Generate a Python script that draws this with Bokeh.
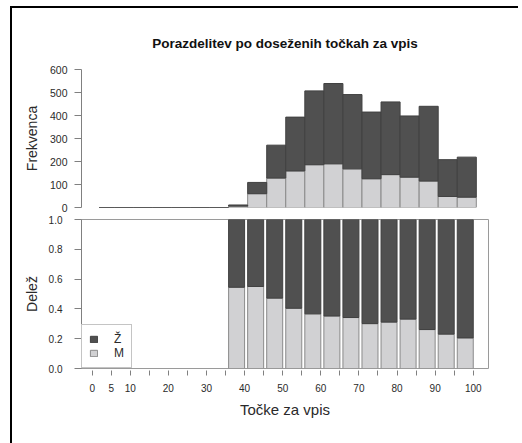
from bokeh.plotting import figure
from bokeh.layouts import column
from bokeh.models import Range1d, FixedTicker, Legend, LegendItem, Title, ColumnDataSource
from bokeh.embed import file_html
from bokeh.resources import INLINE

# ---- data ----
bin_edges = [1, 5, 10, 15, 20, 25, 30, 35, 40, 45, 50, 55, 60, 65, 70, 75, 80, 85, 90, 95, 100]
count_m = [0, 0, 0, 0, 0, 0, 0, 6, 60, 128, 159, 186, 190, 168, 125, 143, 132, 115, 48, 45]
count_z = [0, 0, 0, 0, 0, 0, 0, 5, 49, 143, 234, 321, 349, 323, 290, 316, 266, 325, 160, 174]
x_ticks = list(range(0, 101, 5))
x_labeled = [0, 5, 10, 20, 30, 40, 50, 60, 70, 80, 90, 100]
y_ticks_top = [0, 100, 200, 300, 400, 500, 600]
y_ticks_bottom = [0.0, 0.2, 0.4, 0.6, 0.8, 1.0]
title_text = "Porazdelitev po doseženih točkah za vpis"
label_m = "M"
label_z = "Ž"

# ---- styles ----
DARK = "#505050"
LIGHT = "#d1d1d3"
DARK_LINE = "#404040"
LIGHT_LINE = "#8a8a8a"
AX = "#808080"
TXT = "#2a2a2a"
FONT = "Liberation Sans"
GAP = 0.8

lefts = bin_edges[:-1]
rights = bin_edges[1:]
tot = [m + z for m, z in zip(count_m, count_z)]

src_top = ColumnDataSource(dict(
    left=lefts, right=rights,
    m_top=count_m,
    z_top=tot,
    zero=[0] * len(lefts),
))

idx = [i for i, t in enumerate(tot) if t > 0]
prop_m = [count_m[i] / tot[i] for i in idx]
src_bot = ColumnDataSource(dict(
    left=[lefts[i] + GAP for i in idx],
    right=[rights[i] for i in idx],
    pm=prop_m,
    zero=[0.0] * len(idx),
    one=[1.0] * len(idx),
))

W = 506
LB = 69
RB = 30

# ---- top panel ----
p1 = figure(width=W, height=205, output_backend="svg", toolbar_location=None,
            x_range=Range1d(-3.6, 103.2), y_range=Range1d(0, 600),
            x_axis_location=None, min_border_left=LB, min_border_right=RB,
            min_border_top=61, min_border_bottom=6)
p1.outline_line_color = None
p1.grid.visible = False
p1.background_fill_color = "white"
p1.border_fill_color = "white"
p1.title = Title(text=title_text, align="center", text_font=FONT, text_font_size="13.5px",
                 text_font_style="bold", text_color="#111111", standoff=38)

p1.quad(left="left", right="right", bottom="zero", top="m_top", source=src_top,
        fill_color=LIGHT, line_color=LIGHT_LINE, line_width=1)
p1.quad(left="left", right="right", bottom="m_top", top="z_top", source=src_top,
        fill_color=DARK, line_color=DARK_LINE, line_width=1)

ya = p1.yaxis[0]
ya.ticker = FixedTicker(ticks=y_ticks_top)
ya.axis_label = "Frekvenca"
ya.axis_label_text_font = FONT
ya.axis_label_text_font_size = "14px"
ya.axis_label_text_font_style = "normal"
ya.axis_label_text_color = TXT
ya.axis_label_standoff = 7
ya.major_label_text_font = FONT
ya.major_label_text_font_size = "10.5px"
ya.major_label_text_color = TXT
ya.major_label_standoff = 7
ya.axis_line_color = AX
ya.major_tick_line_color = AX
ya.major_tick_out = 7
ya.major_tick_in = 0
ya.minor_tick_line_color = None

# ---- bottom panel ----
p2 = figure(width=W, height=230, output_backend="svg", toolbar_location=None,
            x_range=Range1d(-2.8, 104.0), y_range=Range1d(0, 1),
            min_border_left=LB, min_border_right=RB,
            min_border_top=6, min_border_bottom=75)
p2.outline_line_color = "#9a9a9a"
p2.outline_line_width = 1
p2.grid.visible = False
p2.background_fill_color = "white"
p2.border_fill_color = "white"

rm = p2.quad(left="left", right="right", bottom="zero", top="pm", source=src_bot,
             fill_color=LIGHT, line_color=LIGHT_LINE, line_width=1)
rz = p2.quad(left="left", right="right", bottom="pm", top="one", source=src_bot,
             fill_color=DARK, line_color=DARK_LINE, line_width=1)

xa = p2.xaxis[0]
xa.ticker = FixedTicker(ticks=x_ticks)
xa.major_label_overrides = {t: ("" if t not in x_labeled else str(t)) for t in x_ticks}
xa.axis_label = "Točke za vpis"
xa.axis_label_text_font = FONT
xa.axis_label_text_font_size = "15px"
xa.axis_label_text_font_style = "normal"
xa.axis_label_text_color = TXT
xa.axis_label_standoff = 6
xa.major_label_text_font = FONT
xa.major_label_text_font_size = "10px"
xa.major_label_text_color = TXT
xa.major_label_standoff = 8
xa.axis_line_color = None
xa.major_tick_line_color = AX
xa.major_tick_out = 7
xa.major_tick_in = -2
xa.minor_tick_line_color = None

yb = p2.yaxis[0]
yb.ticker = FixedTicker(ticks=y_ticks_bottom)
yb.major_label_overrides = {t: f"{t:.1f}" for t in y_ticks_bottom}
yb.axis_label = "Delež"
yb.axis_label_text_font = FONT
yb.axis_label_text_font_size = "14px"
yb.axis_label_text_font_style = "normal"
yb.axis_label_text_color = TXT
yb.axis_label_standoff = 6
yb.major_label_text_font = FONT
yb.major_label_text_font_size = "10px"
yb.major_label_text_color = TXT
yb.major_label_standoff = 12
yb.axis_line_color = AX
yb.major_tick_line_color = AX
yb.major_tick_out = 7
yb.major_tick_in = 0
yb.minor_tick_line_color = None

legend = Legend(items=[LegendItem(label=label_z, renderers=[rz]),
                       LegendItem(label=label_m, renderers=[rm])],
                location="bottom_left", margin=0, padding=7, spacing=0,
                glyph_width=9, glyph_height=8, label_height=10, label_width=8,
                label_standoff=16,
                label_text_font=FONT, label_text_font_size="12px", label_text_color=TXT,
                border_line_color="#8a8a8a", border_line_width=1,
                background_fill_color="white", background_fill_alpha=1.0)
p2.add_layout(legend)

layout = column(p1, p2, spacing=0,
                styles={"border-top": "2px solid black", "border-left": "2px solid black",
                        "margin-left": "10px", "margin-top": "6px"})

open("out.html", "w").write(file_html(layout, INLINE))
